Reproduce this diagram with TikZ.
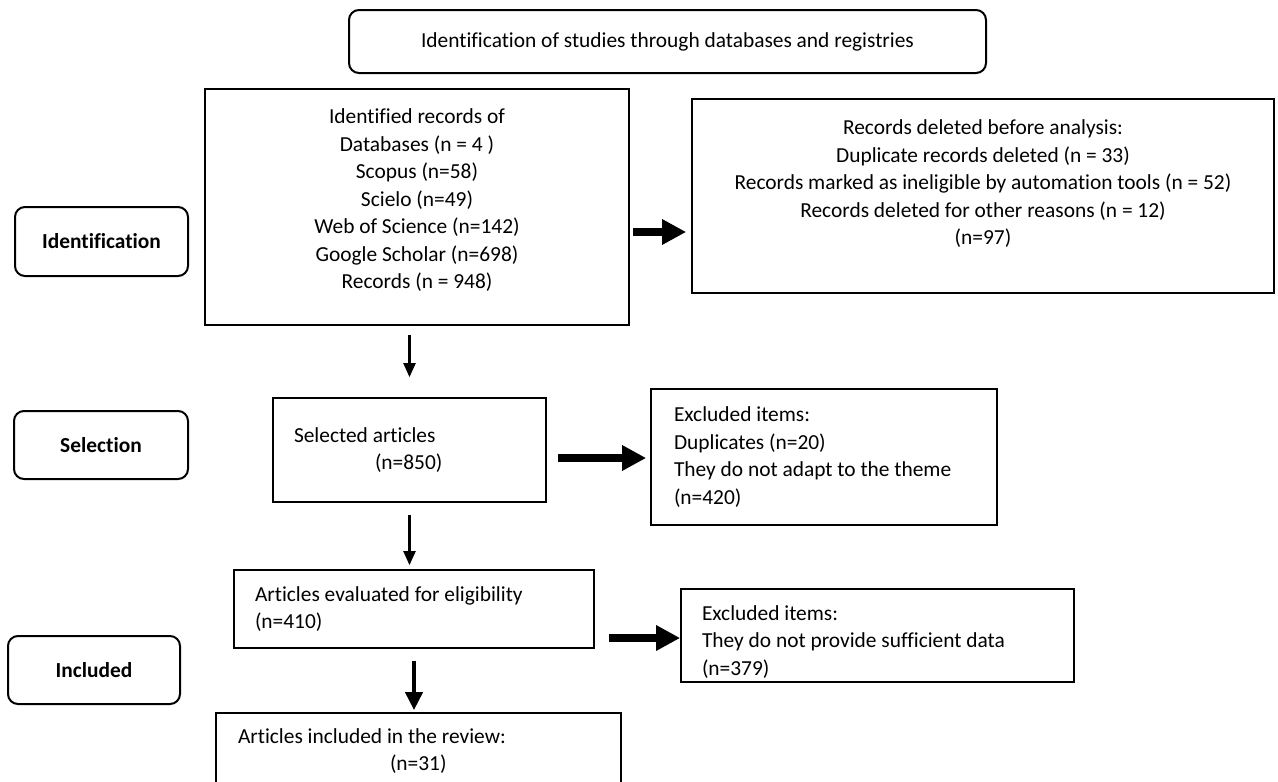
\documentclass[tikz,border=0pt]{standalone}
\usepackage{fontspec}
\setmainfont{Carlito}[Ligatures=CommonOff]
\usetikzlibrary{arrows.meta,positioning,calc}
\tikzset{
	box/.style={
			draw, line width=1.7pt, rectangle, inner sep=0pt,
			font=\fontsize{21.4}{27.5}\selectfont
		},
	stage/.style={box, line width=2pt, rounded corners=10pt, font=\bfseries\fontsize{21.4}{27.5}\selectfont},
	leftbox/.style={box, align=flush left, text width=#1},
	thinarrow/.style={line width=2.2pt, -{Triangle[length=14pt,width=12pt]}},
	fatarrow/.style={line width=8pt, -{Triangle[length=24pt,width=24pt]}}
}

\begin{document}
\begin{tikzpicture}[x=1pt,y=-1pt]
			\useasboundingbox (0,0) rectangle (1278,782);
			\clip (0,0) rectangle (1278,782);

			\node[stage, font=\fontsize{21.4}{27.5}\selectfont, minimum width=637, minimum height=63] (head) at (667.5,41.5) {Identification of studies through databases and registries};

			\node[stage, minimum width=173, minimum height=69] (ident) at (101.5,241.5) {Identification};
			\node[stage, minimum width=174, minimum height=68] (selstage) at (101,445) {Selection};
			\node[stage, minimum width=172, minimum height=68] (inclstage) at (94,670) {Included};

			\node[box, align=center, minimum width=424, minimum height=236] (idrec) at (417,207) {Identified records of\\Databases (n = 4 )\\Scopus (n=58)\\Scielo (n=49)\\Web of Science (n=142)\\Google Scholar (n=698)\\Records (n = 948)\\[-11.5pt]};
			\node[box, align=center, minimum width=582, minimum height=194] (deleted) at (983,196) {Records deleted before analysis:\\Duplicate records deleted (n = 33)\\Records marked as ineligible by automation tools (n = 52)\\Records deleted for other reasons (n = 12)\\(n=97)\\};

			\node[leftbox=231, minimum width=273, minimum height=104] (selart) at (409.5,450) {Selected articles\\\hspace*{81pt}(n=850)};
			\node[leftbox=300, minimum width=346, minimum height=136] (excl1) at (824,457) {Excluded items:\\Duplicates (n=20)\\They do not adapt to the theme\\(n=420)};

			\node[leftbox=318, minimum width=360, minimum height=78] (elig) at (414,609) {Articles evaluated for eligibility\\(n=410)};
			\node[leftbox=351, minimum width=393, minimum height=93] (excl2) at (877.5,635.5) {\rule{0pt}{27pt}Excluded items:\\They do not provide sufficient data\\(n=379)};

			\node[leftbox=361, minimum width=405, minimum height=76] (review) at (418.5,751) {Articles included in the review:\\\hspace*{152pt}(n=31)};

			\coordinate (a1) at ($(idrec.east)+(0,25)$);
			\coordinate (a2) at ($(selart.east)+(0,8)$);
			\coordinate (a3) at ($(elig.east)+(0,29)$);

			\draw[fatarrow, shorten <=3pt, shorten >=5pt] (a1) -- (a1 -| deleted.west);
			\draw[fatarrow, shorten <=11pt, shorten >=4pt] (a2) -- (a2 -| excl1.west);
			\draw[fatarrow, shorten <=14pt] (a3) -- (a3 -| excl2.west);

			\draw[thinarrow, shorten <=9pt, shorten >=20pt] (idrec.south -| selart.north) -- (selart.north);
			\draw[thinarrow, shorten <=12pt, shorten >=4pt] (selart.south) -- (selart.south |- elig.north);
			\draw[thinarrow, line width=4pt, -{Triangle[length=18pt,width=17pt]}, shorten <=12pt, shorten >=2pt] (elig.south) -- (elig.south |- review.north);
		\end{tikzpicture}
\end{document}
